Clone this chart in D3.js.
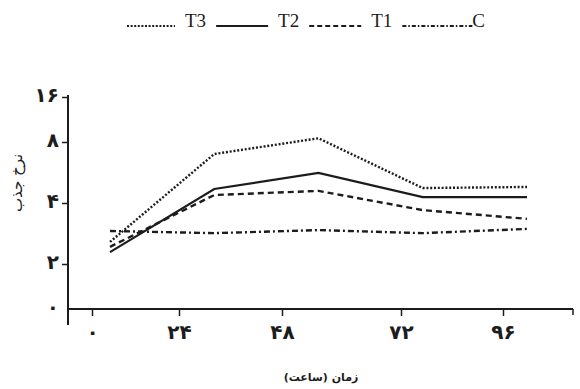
<!DOCTYPE html>
<html>
<head>
<meta charset="utf-8">
<script src="https://cdn.jsdelivr.net/npm/d3@7"></script>
<style>
  body { margin: 0; background: #fff; }
  svg { display: block; }
</style>
</head>
<body>
<svg id="chart" width="580" height="389"></svg>
<script>
// Sampling times (hours) and uptake rates
const hours = [0, 24, 48, 72, 96];
const seriesNames = ['T3', 'T2', 'T1', 'C'];
const t3Values = [2.57, 6.98, 8.47, 4.74, 4.80];
const t2Values = [2.29, 4.69, 5.63, 4.28, 4.28];
const t1Values = [2.43, 4.38, 4.59, 3.69, 3.34];
const cValues  = [2.91, 2.84, 2.94, 2.84, 2.98];

const xTickValues = [0, 24, 48, 72, 96];
const yTickValues = [2, 4, 8, 16];

const xTitle = 'زمان (ساعت)';
const yTitle = 'نرخ جذب';

const toFa = (s) => String(s).replace(/\d/g, (d) => '۰۱۲۳۴۵۶۷۸۹'[d]);

const series = [
  { name: 'T3', values: t3Values, dash: '2,1.8', legendDash: '2,1.6', legendLen: 48 },
  { name: 'T2', values: t2Values, dash: null, legendDash: null, legendLen: 52 },
  { name: 'T1', values: t1Values, dash: '6,4', legendDash: '5,3', legendLen: 52 },
  { name: 'C',  values: cValues,  dash: '6,3,2,3', legendDash: '4,2,1.5,2', legendLen: 70 },
];

const ink = '#1c1c1c';
const svg = d3.select('#chart');

// x: the data sits on an even grid, the printed tick labels do not
const x = d3.scaleLinear().domain([0, 96]).range([110, 527]);
const xTickScale = d3.scaleLinear().domain(xTickValues).range([92, 179, 282, 401, 503]);

// y: log2 axis, drawn with a shorter top octave and a "0" at the baseline
const yBottom = 1 - 45 / 61;
const yLog = d3.scaleLinear()
  .domain([yBottom, 1, 2, 3, 4])
  .range([309, 264, 203, 142, 97]);
const y = (v) => yLog(Math.log2(v));

const axisLeftX = 68;
const axisRightX = 573;
const baseY = yLog(yBottom);

const digitFont = (sel) => sel
  .attr('fill', ink)
  .style('font-family', '"DejaVu Sans", sans-serif')
  .style('font-weight', 'bold')
  .style('font-size', '20px');

// y axis
const yAxis = d3.axisLeft(yLog)
  .tickValues([yBottom, ...yTickValues.map(Math.log2)])
  .tickSize(6)
  .tickPadding(3)
  .tickFormat((d) => (d === yBottom ? '۰' : toFa(Math.round(2 ** d))));

const gy = svg.append('g')
  .attr('transform', `translate(${axisLeftX},0)`)
  .call(yAxis);
gy.select('.domain').remove();
gy.selectAll('.tick line').attr('stroke', ink).attr('stroke-width', 1.5)
  .filter((d) => d === yBottom).remove();
gy.selectAll('.tick text').attr('dy', '0.2em').call(digitFont);

svg.append('line')
  .attr('x1', axisLeftX).attr('x2', axisLeftX)
  .attr('y1', yLog(4) - 2).attr('y2', baseY + 16)
  .attr('stroke', ink).attr('stroke-width', 2);

// x axis
const xAxis = d3.axisBottom(xTickScale)
  .tickValues(xTickValues)
  .tickSize(7)
  .tickFormat(toFa);

const gx = svg.append('g')
  .attr('transform', `translate(0,${baseY})`)
  .call(xAxis);
gx.select('.domain').remove();
gx.selectAll('.tick line').attr('stroke', ink).attr('stroke-width', 1.5);
gx.selectAll('.tick text').attr('y', 30).attr('dy', null).call(digitFont);

svg.append('line')
  .attr('x1', axisLeftX).attr('x2', axisRightX)
  .attr('y1', baseY).attr('y2', baseY)
  .attr('stroke', ink).attr('stroke-width', 2);
svg.append('line')
  .attr('x1', axisRightX).attr('x2', axisRightX)
  .attr('y1', baseY).attr('y2', baseY + 6)
  .attr('stroke', ink).attr('stroke-width', 1.5);

// titles
svg.append('text')
  .attr('x', 321).attr('y', 381)
  .attr('text-anchor', 'middle')
  .attr('direction', 'rtl')
  .attr('fill', ink)
  .style('font-family', '"DejaVu Sans", sans-serif')
  .style('font-weight', 'bold')
  .style('font-size', '11px')
  .text(xTitle);

svg.append('text')
  .attr('transform', 'translate(22,183) rotate(-90)')
  .attr('text-anchor', 'middle')
  .attr('direction', 'rtl')
  .attr('fill', ink)
  .style('font-family', '"DejaVu Sans", sans-serif')
  .style('font-size', '15px')
  .text(yTitle);

// lines
const line = d3.line()
  .x((d, i) => x(hours[i]))
  .y((d) => y(d));

svg.append('g')
  .selectAll('path')
  .data(series)
  .join('path')
  .attr('d', (s) => line(s.values))
  .attr('fill', 'none')
  .attr('stroke', ink)
  .attr('stroke-width', (s) => (s.dash ? 2.4 : 2.2))
  .attr('stroke-dasharray', (s) => s.dash);

// legend
const legend = svg.append('g').attr('transform', 'translate(127,0)');
let cursor = 0;
series.forEach((s, i) => {
  legend.append('line')
    .attr('x1', cursor).attr('x2', cursor + s.legendLen)
    .attr('y1', 26).attr('y2', 26)
    .attr('stroke', ink)
    .attr('stroke-width', 1.8)
    .attr('stroke-dasharray', s.legendDash);
  cursor += s.legendLen + (i === series.length - 1 ? 0 : 10);
  const t = legend.append('text')
    .attr('x', cursor).attr('y', 27)
    .attr('fill', ink)
    .style('font-family', '"Liberation Serif", serif')
    .style('font-size', '19px')
    .text(s.name);
  cursor += t.node().getComputedTextLength() + 10;
});
</script>
</body>
</html>
